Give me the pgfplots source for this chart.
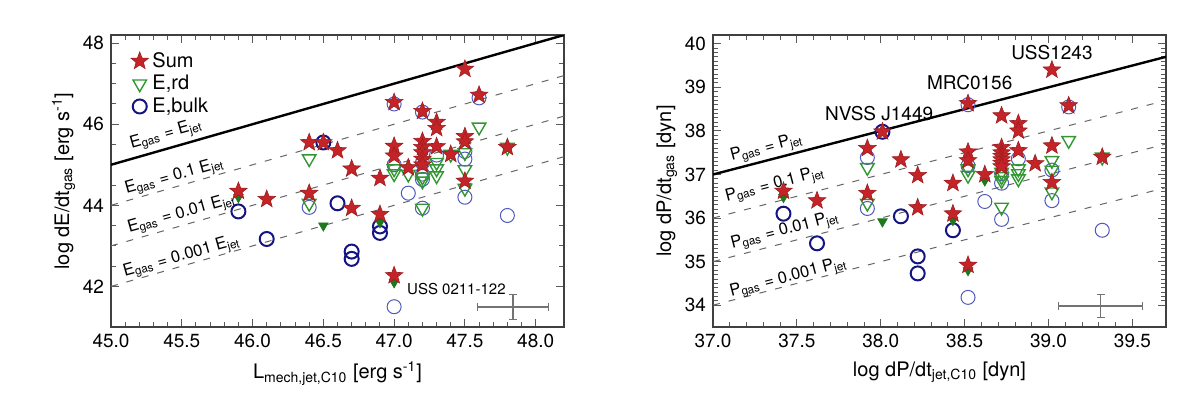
\documentclass[border=0pt]{standalone}
\usepackage{fontspec}
\setmainfont{TeX Gyre Heros}
\usepackage{pgfplots}
\pgfplotsset{compat=1.18}

\definecolor{starred}{RGB}{196,36,40}
\definecolor{rdgreen}{RGB}{50,150,50}
\definecolor{rddark}{RGB}{30,120,30}
\definecolor{bulkdark}{RGB}{20,20,130}
\definecolor{bulklight}{RGB}{80,90,190}

% filled five-point star
\pgfdeclareplotmark{fstar}{%
  \pgfpathmoveto{\pgfpointpolar{90}{\pgfplotmarksize}}%
  \pgfpathlineto{\pgfpointpolar{126}{0.42\pgfplotmarksize}}%
  \pgfpathlineto{\pgfpointpolar{162}{\pgfplotmarksize}}%
  \pgfpathlineto{\pgfpointpolar{198}{0.42\pgfplotmarksize}}%
  \pgfpathlineto{\pgfpointpolar{234}{\pgfplotmarksize}}%
  \pgfpathlineto{\pgfpointpolar{270}{0.42\pgfplotmarksize}}%
  \pgfpathlineto{\pgfpointpolar{306}{\pgfplotmarksize}}%
  \pgfpathlineto{\pgfpointpolar{342}{0.42\pgfplotmarksize}}%
  \pgfpathlineto{\pgfpointpolar{18}{\pgfplotmarksize}}%
  \pgfpathlineto{\pgfpointpolar{54}{0.42\pgfplotmarksize}}%
  \pgfpathclose
  \pgfusepathqfillstroke
}

\pgfplotsset{
  sumst/.style={only marks, mark=fstar, mark size=4.6pt,
    mark options={fill=starred, draw=starred!80!black, line width=0.3pt}},
  rdst/.style={only marks, mark=triangle, mark size=3.9pt,
    mark options={rotate=180, draw=rdgreen, line width=0.7pt}},
  rdfill/.style={only marks, mark=triangle*, mark size=2.7pt,
    mark options={rotate=180, fill=rddark, draw=rddark}},
  bkdark/.style={only marks, mark=o, mark size=3.5pt,
    mark options={draw=bulkdark, line width=1pt}},
  bklight/.style={only marks, mark=o, mark size=3.5pt,
    mark options={draw=bulklight, line width=0.5pt}},
  eqline/.style={black, line width=1.2pt},
  frac/.style={black!60, line width=0.5pt, dash pattern=on 3.5pt off 4.5pt},
  errb/.style={black!55, line width=0.8pt, mark=none, forget plot,
    error bars/.cd, x dir=both, x explicit, y dir=both, y explicit,
    error bar style={black!55, line width=0.8pt}},
  panel/.style={
    scale only axis, width=226.5pt, height=146pt,
    anchor=south west,
    tick align=inside,
    axis line style={black!75, line width=0.6pt},
    every tick/.style={black!65, line width=0.5pt},
    major tick length=4pt, minor tick length=2.5pt,
    tick label style={font=\fontsize{9.5}{11}\selectfont},
    label style={font=\fontsize{10}{12}\selectfont},
    /pgf/number format/assume math mode=true,
    xticklabel style={/pgf/number format/.cd, fixed, fixed zerofill, precision=1},
    minor x tick num=4,
    ylabel shift=-3pt,
  },
}
\newcommand{\lbl}{\fontsize{8.3}{9}\selectfont}

\begin{document}
\begin{tikzpicture}
% ---------------- left panel: energy ----------------
\begin{axis}[panel, at={(55.5pt,35.5pt)},
  xmin=45, xmax=48.2, ymin=41, ymax=48.2,
  xtick={45,45.5,46,46.5,47,47.5,48},
  ytick={42,44,46,48}, minor y tick num=3,
  xlabel={L\textsubscript{mech,jet,C10} [erg s\textsuperscript{-1}]},
  ylabel={log dE/dt\textsubscript{gas} [erg s\textsuperscript{-1}]},
  legend style={at={(0.03,0.97)}, anchor=north west, draw=none, fill=none,
    font=\fontsize{10}{12}\selectfont, row sep=-1.5pt},
  legend cell align=left,
]
\addlegendimage{sumst}\addlegendentry{Sum}
\addlegendimage{rdst}\addlegendentry{E,rd}
\addlegendimage{bkdark}\addlegendentry{E,bulk}

\addplot[eqline, forget plot] coordinates {(45,45) (48.2,48.2)};
\addplot[frac, forget plot] coordinates {(45,44) (48.2,47.2)};
\addplot[frac, forget plot] coordinates {(45,43) (48.2,46.2)};
\addplot[frac, forget plot] coordinates {(45,42) (48.2,45.2)};

% E,bulk
\addplot[bklight, forget plot] coordinates {
(46.4,43.95) (47.0,45.0) (47.0,41.5) (47.1,44.3) (47.2,45.05) (47.2,44.77)
(47.2,44.64) (47.2,43.93) (47.3,45.24) (47.5,45.14) (47.5,45.33) (47.5,44.2)
(47.6,46.65) (47.8,43.75) (47.0,46.5) (47.2,46.3)
};
\addplot[bkdark, forget plot] coordinates {
(45.9,43.85) (46.1,43.17) (46.5,45.55) (46.6,44.05) (46.7,42.86) (46.7,42.68)
(46.9,43.48) (46.9,43.32)
};
% E,rd
\addplot[rdst, forget plot] coordinates {
(46.4,45.15) (46.4,44.05) (47.0,44.9) (47.0,44.78) (47.1,44.77) (47.2,44.7)
(47.2,44.6) (47.2,43.93) (47.3,45.06) (47.3,44.9) (47.3,44.73) (47.4,45.26)
(47.5,45.3) (47.5,44.88) (47.5,44.42) (47.6,45.93) (47.8,45.43)
};
\addplot[rdfill, forget plot] coordinates {
(45.9,44.2) (46.5,43.5) (46.9,43.58) (47.0,42.1)
};
% Sum
\addplot[sumst, forget plot] coordinates {
(45.9,44.35) (46.1,44.15) (46.4,44.3) (46.4,45.55) (46.5,45.55) (46.6,45.35)
(46.7,44.9) (46.7,43.93) (46.9,44.67) (46.9,43.78) (47.0,46.54) (47.0,45.46)
(47.0,45.22) (47.0,42.27) (47.1,44.93) (47.2,46.32) (47.2,45.58) (47.2,45.43)
(47.2,45.3) (47.2,45.14) (47.2,45.0) (47.3,46.05) (47.3,45.9) (47.3,45.45)
(47.4,45.26) (47.5,47.36) (47.5,45.7) (47.5,45.57) (47.5,44.6) (47.6,46.72)
(47.8,45.43)
};
% typical uncertainty
\addplot[errb] coordinates {(47.84,41.5) +- (0.25,0.31)};

\node[rotate=15.7, font=\lbl] at (axis cs:45.39,45.74) {E\textsubscript{gas} = E\textsubscript{jet}};
\node[rotate=15.7, font=\lbl] at (axis cs:45.45,44.7) {E\textsubscript{gas} = 0.1 E\textsubscript{jet}};
\node[rotate=15.7, font=\lbl] at (axis cs:45.5,43.78) {E\textsubscript{gas} = 0.01 E\textsubscript{jet}};
\node[rotate=15.7, font=\lbl] at (axis cs:45.5,42.72) {E\textsubscript{gas} = 0.001 E\textsubscript{jet}};
\node[font=\fontsize{7.5}{9}\selectfont] at (axis cs:47.44,41.93) {USS 0211-122};
\end{axis}

% ---------------- right panel: momentum ----------------
\begin{axis}[panel, at={(356.5pt,35.5pt)},
  xmin=37, xmax=39.7, ymin=33.5, ymax=40.2,
  xtick={37,37.5,38,38.5,39,39.5},
  ytick={34,35,36,37,38,39,40}, minor y tick num=9,
  xlabel={log dP/dt\textsubscript{jet,C10} [dyn]},
  ylabel={log dP/dt\textsubscript{gas} [dyn]},
]
\addplot[eqline] coordinates {(37,37) (39.7,39.7)};
\addplot[frac] coordinates {(37,36) (39.7,38.7)};
\addplot[frac] coordinates {(37,35) (39.7,37.7)};
\addplot[frac] coordinates {(37,34) (39.7,36.7)};

% E,bulk
\addplot[bklight] coordinates {
(37.92,37.39) (37.92,36.22) (38.52,38.6) (38.52,37.2) (38.52,34.18)
(38.62,36.38) (38.72,37.02) (38.72,36.8) (38.72,35.97) (38.82,37.36)
(39.02,37.1) (39.02,36.4) (39.12,38.55) (39.32,35.72)
};
\addplot[bkdark] coordinates {
(37.42,36.1) (37.62,35.42) (38.01,37.98) (38.12,36.04) (38.22,35.12)
(38.22,34.73) (38.43,35.72)
};
% E,rd
\addplot[rdst] coordinates {
(37.92,37.16) (37.92,36.34) (38.52,37.13) (38.52,36.98) (38.72,36.86)
(38.72,37.05) (38.72,36.95) (38.72,36.25) (38.82,37.13) (38.82,37.02)
(38.82,36.9) (39.02,37.32) (39.02,37.1) (39.02,36.6) (39.12,37.78) (39.32,37.4)
};
\addplot[rdfill] coordinates {
(37.42,36.48) (38.01,35.92) (38.43,35.95) (38.52,34.8) (38.62,36.86)
};
% Sum
\addplot[sumst] coordinates {
(37.42,36.62) (37.62,36.4) (37.92,37.6) (37.92,36.57) (38.01,37.98)
(38.12,37.34) (38.22,36.98) (38.22,36.24) (38.43,36.8) (38.43,36.1)
(38.52,38.63) (38.52,37.52) (38.52,37.32) (38.52,34.92) (38.62,37.0)
(38.72,38.35) (38.72,37.62) (38.72,37.5) (38.72,37.42) (38.72,37.34)
(38.72,37.26) (38.72,37.18) (38.82,38.17) (38.82,38.0) (38.82,37.55)
(38.92,37.25) (39.02,39.4) (39.02,37.66) (39.02,36.82) (39.12,38.58)
(39.32,37.4)
};
\addplot[errb] coordinates {(39.31,33.98) +- (0.25,0.27)};

\node[rotate=14.6, font=\lbl] at (axis cs:37.32,37.6) {P\textsubscript{gas} = P\textsubscript{jet}};
\node[rotate=14.6, font=\lbl] at (axis cs:37.37,36.76) {P\textsubscript{gas} = 0.1 P\textsubscript{jet}};
\node[rotate=14.6, font=\lbl] at (axis cs:37.43,35.7) {P\textsubscript{gas} = 0.01 P\textsubscript{jet}};
\node[rotate=14.6, font=\lbl] at (axis cs:37.45,34.62) {P\textsubscript{gas} = 0.001 P\textsubscript{jet}};
\node[font=\fontsize{9.5}{11}\selectfont] at (axis cs:37.99,38.4) {NVSS J1449};
\node[font=\fontsize{9.5}{11}\selectfont] at (axis cs:38.53,39.1) {MRC0156};
\node[font=\fontsize{9.5}{11}\selectfont] at (axis cs:39.02,39.79) {USS1243};
\end{axis}

\pgfresetboundingbox
\path[use as bounding box] (0,0) rectangle (600pt,199pt);
\end{tikzpicture}
\end{document}
